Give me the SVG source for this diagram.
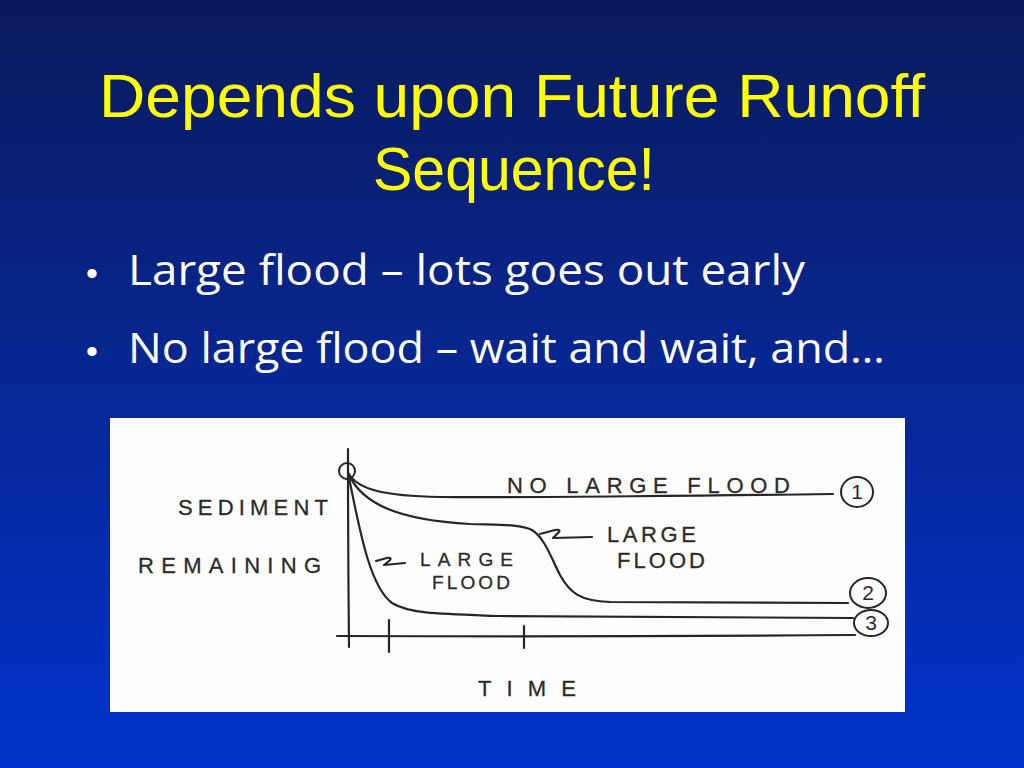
<svg xmlns="http://www.w3.org/2000/svg" width="1024" height="768" viewBox="0 0 1024 768">
  <defs>
    <linearGradient id="bg" x1="0" y1="0" x2="0" y2="1">
      <stop offset="0" stop-color="#0a1a5c"/>
      <stop offset="1" stop-color="#0233cc"/>
    </linearGradient>
    <style>
      .title { font-family: "Liberation Sans", "Open Sans", sans-serif; font-size: 61px; fill: #ffff00; text-anchor: middle; }
      .bullet { font-family: "Open Sans", "Liberation Sans", sans-serif; font-size: 42px; fill: #ffffff; }
      .dot { font-family: "Liberation Sans", sans-serif; font-size: 34px; fill: #ffffff; }
      .hand { font-family: "Liberation Sans", sans-serif; font-size: 22px; fill: #2b2b2b; stroke: #2b2b2b; stroke-width: 0.3; letter-spacing: 2px; }
      .small { font-size: 19px; }
      .num { font-family: "Liberation Sans", sans-serif; font-size: 21px; fill: #2b2b2b; text-anchor: middle; }
      .ink { fill: none; stroke: #262626; stroke-width: 2.2; stroke-linecap: round; stroke-linejoin: round; }
      .ring { fill: none; stroke: #262626; stroke-width: 2; }
    </style>
  </defs>

  <rect x="0" y="0" width="1024" height="768" fill="url(#bg)"/>

  <g id="title">
    <text class="title" x="512" y="117" textLength="826" lengthAdjust="spacingAndGlyphs">Depends upon Future Runoff</text>
    <text class="title" x="514" y="190" textLength="282" lengthAdjust="spacingAndGlyphs">Sequence!</text>
  </g>

  <g id="bullets">
    <text class="dot" x="86" y="285">•</text>
    <text class="bullet" x="128" y="285" textLength="677" lengthAdjust="spacingAndGlyphs">Large flood – lots goes out early</text>
    <text class="dot" x="86" y="363">•</text>
    <text class="bullet" x="128" y="363" textLength="757" lengthAdjust="spacingAndGlyphs">No large flood – wait and wait, and…</text>
  </g>

  <g id="chart">
    <rect id="chart-panel" x="110" y="418" width="795" height="294" fill="#fdfdfd"/>

    <g id="axes">
      <path class="ink" d="M348,449 Q348,550 349,647"/>
      <path class="ink" d="M337,636 Q600,637 855,635"/>
      <path class="ink" d="M389,620 L389,652"/>
      <path class="ink" d="M524,626 L524,648"/>
      <circle class="ring" cx="347" cy="471" r="8"/>
    </g>

    <g id="connectors">
      <path id="curve-1" class="ink" d="M348,473 C358,490 385,496 440,497 S760,495 833,494"/>
      <path id="curve-2" class="ink" d="M348,473 C362,505 400,520 470,524 C500,525 520,524 532,530 C545,538 552,560 560,575 C570,593 580,601 610,602 L848,603"/>
      <path id="curve-3" class="ink" d="M348,473 C358,520 368,585 392,603 C410,614 440,614 500,616 L853,618"/>
      <path class="ink" d="M376,561 L387,558 Q393,557 389,561 L384,565 L405,563"/>
      <path class="ink" d="M540,534 L555,530 Q562,529 558,533 L553,538 L592,537"/>
    </g>

    <g id="label-sediment">
      <text class="hand" x="178" y="515" textLength="152" lengthAdjust="spacing">SEDIMENT</text>
      <text class="hand" x="138" y="573" textLength="185" lengthAdjust="spacing">REMAINING</text>
    </g>

    <g id="label-no-large-flood">
      <text class="hand" x="507" y="493" textLength="285" lengthAdjust="spacing">NO LARGE FLOOD</text>
    </g>

    <g id="label-large-flood-left">
      <text class="hand small" x="420" y="566" textLength="95" lengthAdjust="spacing">LARGE</text>
      <text class="hand small" x="432" y="589" textLength="80" lengthAdjust="spacing">FLOOD</text>
    </g>

    <g id="label-large-flood-right">
      <text class="hand" x="607" y="542" textLength="91" lengthAdjust="spacing">LARGE</text>
      <text class="hand" x="617" y="568" textLength="90" lengthAdjust="spacing">FLOOD</text>
    </g>

    <g id="label-time">
      <text class="hand" x="478" y="696" textLength="100" lengthAdjust="spacing">TIME</text>
    </g>

    <g id="marker-1">
      <ellipse class="ring" cx="857" cy="492" rx="16" ry="15"/>
      <text class="num" x="857" y="499">1</text>
    </g>
    <g id="marker-2">
      <ellipse class="ring" cx="868" cy="593" rx="18" ry="15"/>
      <text class="num" x="868" y="600">2</text>
    </g>
    <g id="marker-3">
      <ellipse class="ring" cx="871" cy="623" rx="17" ry="13"/>
      <text class="num" x="871" y="630">3</text>
    </g>
  </g>
</svg>
